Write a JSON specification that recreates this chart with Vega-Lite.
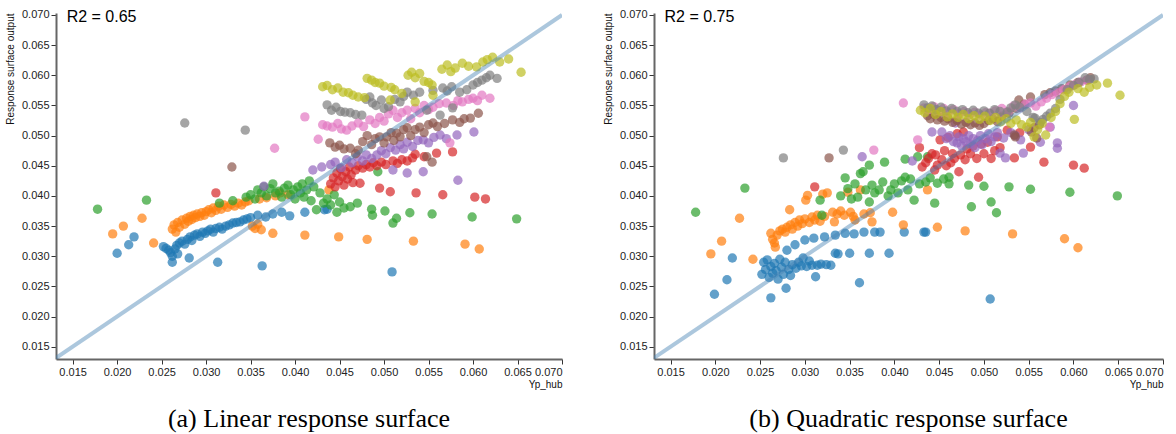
{
"$schema":"https://vega.github.io/schema/vega-lite/v6.json",
"padding":{"left":5,"top":8,"right":2,"bottom":2},
"spacing":40,
"config":{"view":{"stroke":null},"font":"Liberation Sans",
 "axis":{"grid":false,"domainColor":"#666","domainWidth":2,"tickColor":"#333","tickSize":5,"labelFont":"Liberation Sans","labelFontSize":11,"labelColor":"#222","titleFont":"Liberation Sans","titleFontSize":10,"titleFontWeight":"normal","titleColor":"#111","format":".3f"}},
"datasets":{
"la":[{"x":0.0131,"y":0.0131},{"x":0.0700,"y":0.0700}],
"ta":[{"x":0.01433,"y":0.0688,"t":"R2 = 0.65"}],
"tb":[{"x":0.01433,"y":0.0688,"t":"R2 = 0.75"}],
"a":[
{"g":1,"x":0.0200,"y":0.0305},{"g":1,"x":0.0213,"y":0.0319},{"g":1,"x":0.0219,"y":0.0332},{"g":1,"x":0.0252,"y":0.0316},{"g":1,"x":0.0255,"y":0.0313},{"g":1,"x":0.0258,"y":0.0310},{"g":1,"x":0.0260,"y":0.0306},{"g":1,"x":0.0262,"y":0.0300},{"g":1,"x":0.0262,"y":0.0290},{"g":1,"x":0.0265,"y":0.0312},{"g":1,"x":0.0267,"y":0.0318},{"g":1,"x":0.0268,"y":0.0304},{"g":1,"x":0.0270,"y":0.0322},{"g":1,"x":0.0273,"y":0.0325},{"g":1,"x":0.0276,"y":0.0320},{"g":1,"x":0.0279,"y":0.0328},{"g":1,"x":0.0281,"y":0.0297},{"g":1,"x":0.0282,"y":0.0332},{"g":1,"x":0.0284,"y":0.0326},{"g":1,"x":0.0287,"y":0.0335},{"g":1,"x":0.0290,"y":0.0337},{"g":1,"x":0.0293,"y":0.0333},{"g":1,"x":0.0296,"y":0.0340},{"g":1,"x":0.0299,"y":0.0338},{"g":1,"x":0.0302,"y":0.0342},{"g":1,"x":0.0305,"y":0.0345},{"g":1,"x":0.0308,"y":0.0340},{"g":1,"x":0.0311,"y":0.0346},{"g":1,"x":0.0313,"y":0.0290},{"g":1,"x":0.0315,"y":0.0348},{"g":1,"x":0.0318,"y":0.0345},{"g":1,"x":0.0322,"y":0.0350},{"g":1,"x":0.0326,"y":0.0352},{"g":1,"x":0.0330,"y":0.0355},{"g":1,"x":0.0334,"y":0.0356},{"g":1,"x":0.0338,"y":0.0357},{"g":1,"x":0.0342,"y":0.0360},{"g":1,"x":0.0346,"y":0.0362},{"g":1,"x":0.0350,"y":0.0364},{"g":1,"x":0.0358,"y":0.0368},{"g":1,"x":0.0363,"y":0.0284},{"g":1,"x":0.0367,"y":0.0365},{"g":1,"x":0.0375,"y":0.0370},{"g":1,"x":0.0385,"y":0.0373},{"g":1,"x":0.0394,"y":0.0367},{"g":1,"x":0.0411,"y":0.0373},{"g":1,"x":0.0433,"y":0.0377},{"g":1,"x":0.0436,"y":0.0378},{"g":1,"x":0.0509,"y":0.0274},
{"g":2,"x":0.0195,"y":0.0337},{"g":2,"x":0.0207,"y":0.0350},{"g":2,"x":0.0228,"y":0.0363},{"g":2,"x":0.0241,"y":0.0322},{"g":2,"x":0.0262,"y":0.0345},{"g":2,"x":0.0264,"y":0.0352},{"g":2,"x":0.0266,"y":0.0340},{"g":2,"x":0.0268,"y":0.0356},{"g":2,"x":0.0270,"y":0.0348},{"g":2,"x":0.0273,"y":0.0360},{"g":2,"x":0.0276,"y":0.0353},{"g":2,"x":0.0278,"y":0.0363},{"g":2,"x":0.0280,"y":0.0358},{"g":2,"x":0.0282,"y":0.0366},{"g":2,"x":0.0284,"y":0.0361},{"g":2,"x":0.0286,"y":0.0368},{"g":2,"x":0.0288,"y":0.0364},{"g":2,"x":0.0290,"y":0.0370},{"g":2,"x":0.0293,"y":0.0366},{"g":2,"x":0.0295,"y":0.0372},{"g":2,"x":0.0298,"y":0.0368},{"g":2,"x":0.0300,"y":0.0374},{"g":2,"x":0.0303,"y":0.0377},{"g":2,"x":0.0306,"y":0.0372},{"g":2,"x":0.0308,"y":0.0380},{"g":2,"x":0.0311,"y":0.0376},{"g":2,"x":0.0314,"y":0.0383},{"g":2,"x":0.0317,"y":0.0378},{"g":2,"x":0.0320,"y":0.0385},{"g":2,"x":0.0324,"y":0.0381},{"g":2,"x":0.0328,"y":0.0386},{"g":2,"x":0.0332,"y":0.0383},{"g":2,"x":0.0336,"y":0.0388},{"g":2,"x":0.0340,"y":0.0385},{"g":2,"x":0.0344,"y":0.0390},{"g":2,"x":0.0348,"y":0.0392},{"g":2,"x":0.0352,"y":0.0350},{"g":2,"x":0.0355,"y":0.0346},{"g":2,"x":0.0358,"y":0.0353},{"g":2,"x":0.0362,"y":0.0344},{"g":2,"x":0.0360,"y":0.0395},{"g":2,"x":0.0368,"y":0.0397},{"g":2,"x":0.0375,"y":0.0338},{"g":2,"x":0.0378,"y":0.0400},{"g":2,"x":0.0383,"y":0.0405},{"g":2,"x":0.0392,"y":0.0402},{"g":2,"x":0.0411,"y":0.0335},{"g":2,"x":0.0438,"y":0.0410},{"g":2,"x":0.0449,"y":0.0332},{"g":2,"x":0.0481,"y":0.0328},{"g":2,"x":0.0533,"y":0.0325},{"g":2,"x":0.0591,"y":0.0320},{"g":2,"x":0.0607,"y":0.0312},
{"g":3,"x":0.0178,"y":0.0378},{"g":3,"x":0.0233,"y":0.0393},{"g":3,"x":0.0315,"y":0.0388},{"g":3,"x":0.0330,"y":0.0392},{"g":3,"x":0.0345,"y":0.0398},{"g":3,"x":0.0350,"y":0.0402},{"g":3,"x":0.0355,"y":0.0395},{"g":3,"x":0.0358,"y":0.0410},{"g":3,"x":0.0362,"y":0.0405},{"g":3,"x":0.0365,"y":0.0415},{"g":3,"x":0.0368,"y":0.0400},{"g":3,"x":0.0372,"y":0.0412},{"g":3,"x":0.0375,"y":0.0420},{"g":3,"x":0.0378,"y":0.0405},{"g":3,"x":0.0382,"y":0.0408},{"g":3,"x":0.0385,"y":0.0398},{"g":3,"x":0.0388,"y":0.0413},{"g":3,"x":0.0392,"y":0.0418},{"g":3,"x":0.0395,"y":0.0402},{"g":3,"x":0.0398,"y":0.0410},{"g":3,"x":0.0400,"y":0.0395},{"g":3,"x":0.0403,"y":0.0415},{"g":3,"x":0.0406,"y":0.0405},{"g":3,"x":0.0408,"y":0.0420},{"g":3,"x":0.0410,"y":0.0398},{"g":3,"x":0.0413,"y":0.0410},{"g":3,"x":0.0416,"y":0.0425},{"g":3,"x":0.0418,"y":0.0392},{"g":3,"x":0.0421,"y":0.0415},{"g":3,"x":0.0424,"y":0.0377},{"g":3,"x":0.0428,"y":0.0405},{"g":3,"x":0.0432,"y":0.0388},{"g":3,"x":0.0436,"y":0.0395},{"g":3,"x":0.0440,"y":0.0385},{"g":3,"x":0.0444,"y":0.0402},{"g":3,"x":0.0447,"y":0.0373},{"g":3,"x":0.0450,"y":0.0390},{"g":3,"x":0.0455,"y":0.0380},{"g":3,"x":0.0462,"y":0.0382},{"g":3,"x":0.0470,"y":0.0388},{"g":3,"x":0.0486,"y":0.0378},{"g":3,"x":0.0487,"y":0.0368},{"g":3,"x":0.0493,"y":0.0440},{"g":3,"x":0.0501,"y":0.0375},{"g":3,"x":0.0510,"y":0.0355},{"g":3,"x":0.0514,"y":0.0363},{"g":3,"x":0.0529,"y":0.0372},{"g":3,"x":0.0554,"y":0.0370},{"g":3,"x":0.0599,"y":0.0365},{"g":3,"x":0.0649,"y":0.0362},
{"g":4,"x":0.0311,"y":0.0405},{"g":4,"x":0.0440,"y":0.0420},{"g":4,"x":0.0443,"y":0.0430},{"g":4,"x":0.0445,"y":0.0415},{"g":4,"x":0.0447,"y":0.0438},{"g":4,"x":0.0449,"y":0.0425},{"g":4,"x":0.0451,"y":0.0445},{"g":4,"x":0.0453,"y":0.0432},{"g":4,"x":0.0455,"y":0.0418},{"g":4,"x":0.0457,"y":0.0440},{"g":4,"x":0.0459,"y":0.0428},{"g":4,"x":0.0461,"y":0.0448},{"g":4,"x":0.0463,"y":0.0435},{"g":4,"x":0.0465,"y":0.0422},{"g":4,"x":0.0468,"y":0.0443},{"g":4,"x":0.0471,"y":0.0450},{"g":4,"x":0.0473,"y":0.0421},{"g":4,"x":0.0476,"y":0.0446},{"g":4,"x":0.0480,"y":0.0452},{"g":4,"x":0.0484,"y":0.0448},{"g":4,"x":0.0488,"y":0.0455},{"g":4,"x":0.0492,"y":0.0450},{"g":4,"x":0.0495,"y":0.0413},{"g":4,"x":0.0497,"y":0.0456},{"g":4,"x":0.0502,"y":0.0452},{"g":4,"x":0.0507,"y":0.0407},{"g":4,"x":0.0510,"y":0.0458},{"g":4,"x":0.0515,"y":0.0454},{"g":4,"x":0.0520,"y":0.0460},{"g":4,"x":0.0526,"y":0.0458},{"g":4,"x":0.0532,"y":0.0463},{"g":4,"x":0.0535,"y":0.0469},{"g":4,"x":0.0536,"y":0.0405},{"g":4,"x":0.0545,"y":0.0465},{"g":4,"x":0.0559,"y":0.0471},{"g":4,"x":0.0566,"y":0.0402},{"g":4,"x":0.0577,"y":0.0473},{"g":4,"x":0.0602,"y":0.0398},{"g":4,"x":0.0614,"y":0.0395},
{"g":5,"x":0.0365,"y":0.0416},{"g":5,"x":0.0420,"y":0.0443},{"g":5,"x":0.0430,"y":0.0448},{"g":5,"x":0.0440,"y":0.0452},{"g":5,"x":0.0445,"y":0.0456},{"g":5,"x":0.0452,"y":0.0447},{"g":5,"x":0.0458,"y":0.0460},{"g":5,"x":0.0464,"y":0.0455},{"g":5,"x":0.0470,"y":0.0465},{"g":5,"x":0.0476,"y":0.0458},{"g":5,"x":0.0480,"y":0.0468},{"g":5,"x":0.0486,"y":0.0462},{"g":5,"x":0.0492,"y":0.0468},{"g":5,"x":0.0497,"y":0.0475},{"g":5,"x":0.0502,"y":0.0470},{"g":5,"x":0.0507,"y":0.0480},{"g":5,"x":0.0510,"y":0.0443},{"g":5,"x":0.0513,"y":0.0476},{"g":5,"x":0.0518,"y":0.0485},{"g":5,"x":0.0522,"y":0.0478},{"g":5,"x":0.0526,"y":0.0489},{"g":5,"x":0.0526,"y":0.0438},{"g":5,"x":0.0532,"y":0.0482},{"g":5,"x":0.0538,"y":0.0492},{"g":5,"x":0.0544,"y":0.0493},{"g":5,"x":0.0544,"y":0.0440},{"g":5,"x":0.0550,"y":0.0488},{"g":5,"x":0.0556,"y":0.0497},{"g":5,"x":0.0563,"y":0.0501},{"g":5,"x":0.0570,"y":0.0495},{"g":5,"x":0.0582,"y":0.0501},{"g":5,"x":0.0583,"y":0.0426},{"g":5,"x":0.0601,"y":0.0506},
{"g":6,"x":0.0329,"y":0.0448},{"g":6,"x":0.0439,"y":0.0488},{"g":6,"x":0.0445,"y":0.0481},{"g":6,"x":0.0450,"y":0.0484},{"g":6,"x":0.0455,"y":0.0478},{"g":6,"x":0.0462,"y":0.0479},{"g":6,"x":0.0468,"y":0.0470},{"g":6,"x":0.0471,"y":0.0476},{"g":6,"x":0.0476,"y":0.0490},{"g":6,"x":0.0481,"y":0.0500},{"g":6,"x":0.0486,"y":0.0485},{"g":6,"x":0.0490,"y":0.0495},{"g":6,"x":0.0495,"y":0.0498},{"g":6,"x":0.0500,"y":0.0488},{"g":6,"x":0.0503,"y":0.0498},{"g":6,"x":0.0508,"y":0.0505},{"g":6,"x":0.0511,"y":0.0492},{"g":6,"x":0.0514,"y":0.0504},{"g":6,"x":0.0518,"y":0.0498},{"g":6,"x":0.0522,"y":0.0510},{"g":6,"x":0.0526,"y":0.0513},{"g":6,"x":0.0530,"y":0.0500},{"g":6,"x":0.0535,"y":0.0510},{"g":6,"x":0.0540,"y":0.0514},{"g":6,"x":0.0545,"y":0.0505},{"g":6,"x":0.0548,"y":0.0465},{"g":6,"x":0.0550,"y":0.0518},{"g":6,"x":0.0554,"y":0.0456},{"g":6,"x":0.0555,"y":0.0521},{"g":6,"x":0.0560,"y":0.0515},{"g":6,"x":0.0568,"y":0.0520},{"g":6,"x":0.0577,"y":0.0526},{"g":6,"x":0.0585,"y":0.0522},{"g":6,"x":0.0590,"y":0.0528},{"g":6,"x":0.0597,"y":0.0529},{"g":6,"x":0.0606,"y":0.0537},
{"g":7,"x":0.0377,"y":0.0479},{"g":7,"x":0.0411,"y":0.0531},{"g":7,"x":0.0426,"y":0.0494},{"g":7,"x":0.0431,"y":0.0518},{"g":7,"x":0.0436,"y":0.0516},{"g":7,"x":0.0442,"y":0.0514},{"g":7,"x":0.0448,"y":0.0520},{"g":7,"x":0.0452,"y":0.0511},{"g":7,"x":0.0458,"y":0.0509},{"g":7,"x":0.0464,"y":0.0516},{"g":7,"x":0.0471,"y":0.0521},{"g":7,"x":0.0477,"y":0.0515},{"g":7,"x":0.0484,"y":0.0526},{"g":7,"x":0.0490,"y":0.0520},{"g":7,"x":0.0495,"y":0.0530},{"g":7,"x":0.0500,"y":0.0524},{"g":7,"x":0.0505,"y":0.0536},{"g":7,"x":0.0510,"y":0.0542},{"g":7,"x":0.0515,"y":0.0530},{"g":7,"x":0.0520,"y":0.0538},{"g":7,"x":0.0526,"y":0.0542},{"g":7,"x":0.0530,"y":0.0528},{"g":7,"x":0.0535,"y":0.0545},{"g":7,"x":0.0540,"y":0.0538},{"g":7,"x":0.0545,"y":0.0550},{"g":7,"x":0.0550,"y":0.0543},{"g":7,"x":0.0555,"y":0.0547},{"g":7,"x":0.0562,"y":0.0553},{"g":7,"x":0.0570,"y":0.0554},{"g":7,"x":0.0574,"y":0.0488},{"g":7,"x":0.0578,"y":0.0550},{"g":7,"x":0.0583,"y":0.0558},{"g":7,"x":0.0588,"y":0.0556},{"g":7,"x":0.0595,"y":0.0560},{"g":7,"x":0.0600,"y":0.0562},{"g":7,"x":0.0605,"y":0.0558},{"g":7,"x":0.0610,"y":0.0567},{"g":7,"x":0.0619,"y":0.0562},
{"g":8,"x":0.0276,"y":0.0521},{"g":8,"x":0.0344,"y":0.0509},{"g":8,"x":0.0436,"y":0.0551},{"g":8,"x":0.0441,"y":0.0542},{"g":8,"x":0.0446,"y":0.0547},{"g":8,"x":0.0451,"y":0.0540},{"g":8,"x":0.0456,"y":0.0539},{"g":8,"x":0.0462,"y":0.0538},{"g":8,"x":0.0468,"y":0.0535},{"g":8,"x":0.0475,"y":0.0534},{"g":8,"x":0.0480,"y":0.0560},{"g":8,"x":0.0484,"y":0.0564},{"g":8,"x":0.0487,"y":0.0554},{"g":8,"x":0.0491,"y":0.0550},{"g":8,"x":0.0497,"y":0.0559},{"g":8,"x":0.0500,"y":0.0545},{"g":8,"x":0.0505,"y":0.0548},{"g":8,"x":0.0512,"y":0.0560},{"g":8,"x":0.0518,"y":0.0556},{"g":8,"x":0.0522,"y":0.0565},{"g":8,"x":0.0526,"y":0.0572},{"g":8,"x":0.0533,"y":0.0567},{"g":8,"x":0.0540,"y":0.0572},{"g":8,"x":0.0548,"y":0.0542},{"g":8,"x":0.0555,"y":0.0575},{"g":8,"x":0.0563,"y":0.0534},{"g":8,"x":0.0566,"y":0.0579},{"g":8,"x":0.0571,"y":0.0574},{"g":8,"x":0.0576,"y":0.0581},{"g":8,"x":0.0577,"y":0.0546},{"g":8,"x":0.0585,"y":0.0572},{"g":8,"x":0.0593,"y":0.0576},{"g":8,"x":0.0600,"y":0.0584},{"g":8,"x":0.0605,"y":0.0588},{"g":8,"x":0.0610,"y":0.0592},{"g":8,"x":0.0615,"y":0.0596},{"g":8,"x":0.0619,"y":0.0600},{"g":8,"x":0.0627,"y":0.0595},
{"g":9,"x":0.0431,"y":0.0581},{"g":9,"x":0.0436,"y":0.0583},{"g":9,"x":0.0442,"y":0.0576},{"g":9,"x":0.0448,"y":0.0579},{"g":9,"x":0.0454,"y":0.0572},{"g":9,"x":0.0460,"y":0.0571},{"g":9,"x":0.0465,"y":0.0567},{"g":9,"x":0.0471,"y":0.0564},{"g":9,"x":0.0478,"y":0.0563},{"g":9,"x":0.0481,"y":0.0595},{"g":9,"x":0.0486,"y":0.0592},{"g":9,"x":0.0490,"y":0.0588},{"g":9,"x":0.0495,"y":0.0587},{"g":9,"x":0.0500,"y":0.0582},{"g":9,"x":0.0507,"y":0.0559},{"g":9,"x":0.0508,"y":0.0580},{"g":9,"x":0.0512,"y":0.0576},{"g":9,"x":0.0520,"y":0.0570},{"g":9,"x":0.0527,"y":0.0600},{"g":9,"x":0.0531,"y":0.0605},{"g":9,"x":0.0535,"y":0.0596},{"g":9,"x":0.0535,"y":0.0556},{"g":9,"x":0.0540,"y":0.0603},{"g":9,"x":0.0545,"y":0.0590},{"g":9,"x":0.0550,"y":0.0588},{"g":9,"x":0.0554,"y":0.0584},{"g":9,"x":0.0555,"y":0.0567},{"g":9,"x":0.0565,"y":0.0610},{"g":9,"x":0.0571,"y":0.0617},{"g":9,"x":0.0575,"y":0.0606},{"g":9,"x":0.0580,"y":0.0612},{"g":9,"x":0.0588,"y":0.0620},{"g":9,"x":0.0595,"y":0.0615},{"g":9,"x":0.0604,"y":0.0614},{"g":9,"x":0.0611,"y":0.0622},{"g":9,"x":0.0616,"y":0.0626},{"g":9,"x":0.0622,"y":0.0630},{"g":9,"x":0.0630,"y":0.0622},{"g":9,"x":0.0640,"y":0.0627},{"g":9,"x":0.0654,"y":0.0605}
],
"b":[
{"g":1,"x":0.0199,"y":0.0237},{"g":1,"x":0.0213,"y":0.0261},{"g":1,"x":0.0219,"y":0.0297},{"g":1,"x":0.0252,"y":0.0270},{"g":1,"x":0.0254,"y":0.0290},{"g":1,"x":0.0256,"y":0.0278},{"g":1,"x":0.0258,"y":0.0294},{"g":1,"x":0.0260,"y":0.0265},{"g":1,"x":0.0262,"y":0.0231},{"g":1,"x":0.0262,"y":0.0283},{"g":1,"x":0.0264,"y":0.0272},{"g":1,"x":0.0266,"y":0.0288},{"g":1,"x":0.0268,"y":0.0276},{"g":1,"x":0.0270,"y":0.0262},{"g":1,"x":0.0272,"y":0.0295},{"g":1,"x":0.0274,"y":0.0282},{"g":1,"x":0.0276,"y":0.0270},{"g":1,"x":0.0278,"y":0.0290},{"g":1,"x":0.0279,"y":0.0247},{"g":1,"x":0.0280,"y":0.0310},{"g":1,"x":0.0282,"y":0.0278},{"g":1,"x":0.0284,"y":0.0268},{"g":1,"x":0.0286,"y":0.0286},{"g":1,"x":0.0289,"y":0.0319},{"g":1,"x":0.0290,"y":0.0280},{"g":1,"x":0.0293,"y":0.0290},{"g":1,"x":0.0296,"y":0.0284},{"g":1,"x":0.0298,"y":0.0297},{"g":1,"x":0.0300,"y":0.0327},{"g":1,"x":0.0302,"y":0.0283},{"g":1,"x":0.0305,"y":0.0292},{"g":1,"x":0.0308,"y":0.0285},{"g":1,"x":0.0310,"y":0.0330},{"g":1,"x":0.0312,"y":0.0266},{"g":1,"x":0.0314,"y":0.0285},{"g":1,"x":0.0318,"y":0.0287},{"g":1,"x":0.0322,"y":0.0332},{"g":1,"x":0.0324,"y":0.0286},{"g":1,"x":0.0329,"y":0.0285},{"g":1,"x":0.0334,"y":0.0335},{"g":1,"x":0.0334,"y":0.0305},{"g":1,"x":0.0337,"y":0.0304},{"g":1,"x":0.0345,"y":0.0338},{"g":1,"x":0.0350,"y":0.0305},{"g":1,"x":0.0355,"y":0.0337},{"g":1,"x":0.0361,"y":0.0256},{"g":1,"x":0.0366,"y":0.0340},{"g":1,"x":0.0372,"y":0.0305},{"g":1,"x":0.0378,"y":0.0340},{"g":1,"x":0.0384,"y":0.0340},{"g":1,"x":0.0394,"y":0.0305},{"g":1,"x":0.0411,"y":0.0340},{"g":1,"x":0.0433,"y":0.0340},{"g":1,"x":0.0435,"y":0.0340},{"g":1,"x":0.0507,"y":0.0229},
{"g":2,"x":0.0195,"y":0.0304},{"g":2,"x":0.0207,"y":0.0325},{"g":2,"x":0.0227,"y":0.0363},{"g":2,"x":0.0242,"y":0.0295},{"g":2,"x":0.0262,"y":0.0338},{"g":2,"x":0.0264,"y":0.0328},{"g":2,"x":0.0266,"y":0.0322},{"g":2,"x":0.0267,"y":0.0315},{"g":2,"x":0.0269,"y":0.0335},{"g":2,"x":0.0272,"y":0.0342},{"g":2,"x":0.0275,"y":0.0345},{"g":2,"x":0.0278,"y":0.0340},{"g":2,"x":0.0280,"y":0.0348},{"g":2,"x":0.0283,"y":0.0377},{"g":2,"x":0.0284,"y":0.0352},{"g":2,"x":0.0286,"y":0.0345},{"g":2,"x":0.0289,"y":0.0356},{"g":2,"x":0.0292,"y":0.0350},{"g":2,"x":0.0294,"y":0.0360},{"g":2,"x":0.0297,"y":0.0354},{"g":2,"x":0.0300,"y":0.0362},{"g":2,"x":0.0301,"y":0.0393},{"g":2,"x":0.0303,"y":0.0401},{"g":2,"x":0.0305,"y":0.0356},{"g":2,"x":0.0308,"y":0.0365},{"g":2,"x":0.0311,"y":0.0360},{"g":2,"x":0.0314,"y":0.0368},{"g":2,"x":0.0317,"y":0.0358},{"g":2,"x":0.0320,"y":0.0403},{"g":2,"x":0.0322,"y":0.0366},{"g":2,"x":0.0325,"y":0.0405},{"g":2,"x":0.0331,"y":0.0373},{"g":2,"x":0.0333,"y":0.0357},{"g":2,"x":0.0336,"y":0.0370},{"g":2,"x":0.0340,"y":0.0375},{"g":2,"x":0.0344,"y":0.0368},{"g":2,"x":0.0348,"y":0.0406},{"g":2,"x":0.0351,"y":0.0373},{"g":2,"x":0.0354,"y":0.0366},{"g":2,"x":0.0356,"y":0.0360},{"g":2,"x":0.0362,"y":0.0410},{"g":2,"x":0.0366,"y":0.0370},{"g":2,"x":0.0373,"y":0.0372},{"g":2,"x":0.0375,"y":0.0357},{"g":2,"x":0.0398,"y":0.0373},{"g":2,"x":0.0410,"y":0.0352},{"g":2,"x":0.0437,"y":0.0410},{"g":2,"x":0.0448,"y":0.0348},{"g":2,"x":0.0479,"y":0.0342},{"g":2,"x":0.0532,"y":0.0337},{"g":2,"x":0.0590,"y":0.0329},{"g":2,"x":0.0605,"y":0.0314},
{"g":3,"x":0.0178,"y":0.0373},{"g":3,"x":0.0233,"y":0.0413},{"g":3,"x":0.0317,"y":0.0393},{"g":3,"x":0.0319,"y":0.0368},{"g":3,"x":0.0340,"y":0.0400},{"g":3,"x":0.0345,"y":0.0430},{"g":3,"x":0.0348,"y":0.0412},{"g":3,"x":0.0352,"y":0.0395},{"g":3,"x":0.0356,"y":0.0420},{"g":3,"x":0.0359,"y":0.0398},{"g":3,"x":0.0362,"y":0.0437},{"g":3,"x":0.0365,"y":0.0440},{"g":3,"x":0.0368,"y":0.0410},{"g":3,"x":0.0372,"y":0.0451},{"g":3,"x":0.0372,"y":0.0390},{"g":3,"x":0.0375,"y":0.0418},{"g":3,"x":0.0378,"y":0.0405},{"g":3,"x":0.0383,"y":0.0410},{"g":3,"x":0.0387,"y":0.0423},{"g":3,"x":0.0389,"y":0.0456},{"g":3,"x":0.0393,"y":0.0400},{"g":3,"x":0.0396,"y":0.0410},{"g":3,"x":0.0400,"y":0.0420},{"g":3,"x":0.0404,"y":0.0405},{"g":3,"x":0.0408,"y":0.0425},{"g":3,"x":0.0412,"y":0.0431},{"g":3,"x":0.0412,"y":0.0461},{"g":3,"x":0.0415,"y":0.0410},{"g":3,"x":0.0418,"y":0.0428},{"g":3,"x":0.0422,"y":0.0393},{"g":3,"x":0.0426,"y":0.0465},{"g":3,"x":0.0428,"y":0.0420},{"g":3,"x":0.0435,"y":0.0423},{"g":3,"x":0.0437,"y":0.0465},{"g":3,"x":0.0440,"y":0.0430},{"g":3,"x":0.0445,"y":0.0388},{"g":3,"x":0.0448,"y":0.0421},{"g":3,"x":0.0455,"y":0.0428},{"g":3,"x":0.0461,"y":0.0431},{"g":3,"x":0.0461,"y":0.0420},{"g":3,"x":0.0483,"y":0.0418},{"g":3,"x":0.0486,"y":0.0382},{"g":3,"x":0.0500,"y":0.0416},{"g":3,"x":0.0508,"y":0.0390},{"g":3,"x":0.0514,"y":0.0372},{"g":3,"x":0.0528,"y":0.0415},{"g":3,"x":0.0552,"y":0.0411},{"g":3,"x":0.0596,"y":0.0406},{"g":3,"x":0.0649,"y":0.0400},
{"g":4,"x":0.0311,"y":0.0415},{"g":4,"x":0.0428,"y":0.0480},{"g":4,"x":0.0431,"y":0.0448},{"g":4,"x":0.0435,"y":0.0455},{"g":4,"x":0.0438,"y":0.0462},{"g":4,"x":0.0442,"y":0.0470},{"g":4,"x":0.0445,"y":0.0443},{"g":4,"x":0.0446,"y":0.0468},{"g":4,"x":0.0448,"y":0.0451},{"g":4,"x":0.0451,"y":0.0493},{"g":4,"x":0.0453,"y":0.0460},{"g":4,"x":0.0456,"y":0.0475},{"g":4,"x":0.0458,"y":0.0450},{"g":4,"x":0.0460,"y":0.0497},{"g":4,"x":0.0463,"y":0.0455},{"g":4,"x":0.0465,"y":0.0470},{"g":4,"x":0.0467,"y":0.0462},{"g":4,"x":0.0470,"y":0.0503},{"g":4,"x":0.0472,"y":0.0440},{"g":4,"x":0.0474,"y":0.0468},{"g":4,"x":0.0477,"y":0.0506},{"g":4,"x":0.0479,"y":0.0460},{"g":4,"x":0.0481,"y":0.0478},{"g":4,"x":0.0485,"y":0.0470},{"g":4,"x":0.0488,"y":0.0483},{"g":4,"x":0.0492,"y":0.0462},{"g":4,"x":0.0494,"y":0.0431},{"g":4,"x":0.0497,"y":0.0486},{"g":4,"x":0.0500,"y":0.0470},{"g":4,"x":0.0504,"y":0.0489},{"g":4,"x":0.0508,"y":0.0462},{"g":4,"x":0.0512,"y":0.0475},{"g":4,"x":0.0515,"y":0.0498},{"g":4,"x":0.0518,"y":0.0480},{"g":4,"x":0.0526,"y":0.0509},{"g":4,"x":0.0534,"y":0.0463},{"g":4,"x":0.0540,"y":0.0505},{"g":4,"x":0.0552,"y":0.0481},{"g":4,"x":0.0567,"y":0.0456},{"g":4,"x":0.0600,"y":0.0451},{"g":4,"x":0.0612,"y":0.0446},
{"g":5,"x":0.0364,"y":0.0465},{"g":5,"x":0.0420,"y":0.0458},{"g":5,"x":0.0442,"y":0.0506},{"g":5,"x":0.0453,"y":0.0506},{"g":5,"x":0.0458,"y":0.0495},{"g":5,"x":0.0462,"y":0.0500},{"g":5,"x":0.0466,"y":0.0490},{"g":5,"x":0.0468,"y":0.0521},{"g":5,"x":0.0470,"y":0.0488},{"g":5,"x":0.0472,"y":0.0498},{"g":5,"x":0.0475,"y":0.0483},{"g":5,"x":0.0477,"y":0.0495},{"g":5,"x":0.0480,"y":0.0490},{"g":5,"x":0.0483,"y":0.0500},{"g":5,"x":0.0485,"y":0.0486},{"g":5,"x":0.0488,"y":0.0495},{"g":5,"x":0.0490,"y":0.0480},{"g":5,"x":0.0493,"y":0.0492},{"g":5,"x":0.0496,"y":0.0500},{"g":5,"x":0.0498,"y":0.0485},{"g":5,"x":0.0502,"y":0.0495},{"g":5,"x":0.0505,"y":0.0503},{"g":5,"x":0.0508,"y":0.0490},{"g":5,"x":0.0512,"y":0.0498},{"g":5,"x":0.0515,"y":0.0505},{"g":5,"x":0.0518,"y":0.0471},{"g":5,"x":0.0522,"y":0.0496},{"g":5,"x":0.0524,"y":0.0463},{"g":5,"x":0.0530,"y":0.0505},{"g":5,"x":0.0535,"y":0.0500},{"g":5,"x":0.0541,"y":0.0493},{"g":5,"x":0.0544,"y":0.0471},{"g":5,"x":0.0550,"y":0.0510},{"g":5,"x":0.0563,"y":0.0489},{"g":5,"x":0.0574,"y":0.0514},{"g":5,"x":0.0582,"y":0.0488},{"g":5,"x":0.0582,"y":0.0479},{"g":5,"x":0.0600,"y":0.0550},
{"g":6,"x":0.0327,"y":0.0463},{"g":6,"x":0.0437,"y":0.0533},{"g":6,"x":0.0440,"y":0.0528},{"g":6,"x":0.0444,"y":0.0535},{"g":6,"x":0.0448,"y":0.0526},{"g":6,"x":0.0452,"y":0.0530},{"g":6,"x":0.0456,"y":0.0524},{"g":6,"x":0.0460,"y":0.0528},{"g":6,"x":0.0465,"y":0.0522},{"g":6,"x":0.0470,"y":0.0525},{"g":6,"x":0.0475,"y":0.0519},{"g":6,"x":0.0480,"y":0.0522},{"g":6,"x":0.0485,"y":0.0518},{"g":6,"x":0.0490,"y":0.0521},{"g":6,"x":0.0495,"y":0.0517},{"g":6,"x":0.0500,"y":0.0520},{"g":6,"x":0.0505,"y":0.0525},{"g":6,"x":0.0510,"y":0.0528},{"g":6,"x":0.0515,"y":0.0523},{"g":6,"x":0.0520,"y":0.0532},{"g":6,"x":0.0528,"y":0.0537},{"g":6,"x":0.0534,"y":0.0501},{"g":6,"x":0.0535,"y":0.0498},{"g":6,"x":0.0536,"y":0.0545},{"g":6,"x":0.0539,"y":0.0559},{"g":6,"x":0.0545,"y":0.0552},{"g":6,"x":0.0552,"y":0.0564},{"g":6,"x":0.0553,"y":0.0506},{"g":6,"x":0.0556,"y":0.0513},{"g":6,"x":0.0559,"y":0.0496},{"g":6,"x":0.0562,"y":0.0518},{"g":6,"x":0.0568,"y":0.0568},{"g":6,"x":0.0574,"y":0.0571},{"g":6,"x":0.0580,"y":0.0574},{"g":6,"x":0.0587,"y":0.0578},{"g":6,"x":0.0596,"y":0.0584},{"g":6,"x":0.0605,"y":0.0588},{"g":6,"x":0.0615,"y":0.0592},{"g":6,"x":0.0619,"y":0.0596},
{"g":7,"x":0.0377,"y":0.0476},{"g":7,"x":0.0410,"y":0.0554},{"g":7,"x":0.0426,"y":0.0493},{"g":7,"x":0.0433,"y":0.0546},{"g":7,"x":0.0438,"y":0.0543},{"g":7,"x":0.0444,"y":0.0548},{"g":7,"x":0.0450,"y":0.0541},{"g":7,"x":0.0455,"y":0.0545},{"g":7,"x":0.0460,"y":0.0538},{"g":7,"x":0.0466,"y":0.0543},{"g":7,"x":0.0472,"y":0.0536},{"g":7,"x":0.0478,"y":0.0540},{"g":7,"x":0.0484,"y":0.0535},{"g":7,"x":0.0490,"y":0.0539},{"g":7,"x":0.0496,"y":0.0534},{"g":7,"x":0.0502,"y":0.0538},{"g":7,"x":0.0507,"y":0.0537},{"g":7,"x":0.0513,"y":0.0541},{"g":7,"x":0.0520,"y":0.0545},{"g":7,"x":0.0527,"y":0.0540},{"g":7,"x":0.0533,"y":0.0549},{"g":7,"x":0.0540,"y":0.0546},{"g":7,"x":0.0546,"y":0.0552},{"g":7,"x":0.0552,"y":0.0554},{"g":7,"x":0.0558,"y":0.0549},{"g":7,"x":0.0564,"y":0.0556},{"g":7,"x":0.0570,"y":0.0562},{"g":7,"x":0.0573,"y":0.0514},{"g":7,"x":0.0576,"y":0.0568},{"g":7,"x":0.0582,"y":0.0571},{"g":7,"x":0.0589,"y":0.0576},{"g":7,"x":0.0596,"y":0.0581},{"g":7,"x":0.0602,"y":0.0585},{"g":7,"x":0.0608,"y":0.0589},{"g":7,"x":0.0615,"y":0.0592},
{"g":8,"x":0.0276,"y":0.0463},{"g":8,"x":0.0343,"y":0.0476},{"g":8,"x":0.0433,"y":0.0551},{"g":8,"x":0.0437,"y":0.0546},{"g":8,"x":0.0442,"y":0.0549},{"g":8,"x":0.0447,"y":0.0543},{"g":8,"x":0.0452,"y":0.0547},{"g":8,"x":0.0458,"y":0.0541},{"g":8,"x":0.0464,"y":0.0545},{"g":8,"x":0.0470,"y":0.0540},{"g":8,"x":0.0476,"y":0.0543},{"g":8,"x":0.0482,"y":0.0538},{"g":8,"x":0.0488,"y":0.0542},{"g":8,"x":0.0494,"y":0.0537},{"g":8,"x":0.0500,"y":0.0541},{"g":8,"x":0.0506,"y":0.0537},{"g":8,"x":0.0512,"y":0.0543},{"g":8,"x":0.0518,"y":0.0540},{"g":8,"x":0.0526,"y":0.0539},{"g":8,"x":0.0530,"y":0.0546},{"g":8,"x":0.0535,"y":0.0551},{"g":8,"x":0.0540,"y":0.0547},{"g":8,"x":0.0548,"y":0.0540},{"g":8,"x":0.0555,"y":0.0530},{"g":8,"x":0.0557,"y":0.0529},{"g":8,"x":0.0563,"y":0.0522},{"g":8,"x":0.0566,"y":0.0527},{"g":8,"x":0.0570,"y":0.0532},{"g":8,"x":0.0574,"y":0.0537},{"g":8,"x":0.0580,"y":0.0545},{"g":8,"x":0.0585,"y":0.0560},{"g":8,"x":0.0593,"y":0.0576},{"g":8,"x":0.0600,"y":0.0583},{"g":8,"x":0.0606,"y":0.0588},{"g":8,"x":0.0613,"y":0.0596},{"g":8,"x":0.0618,"y":0.0593},{"g":8,"x":0.0623,"y":0.0594},
{"g":9,"x":0.0429,"y":0.0542},{"g":9,"x":0.0434,"y":0.0538},{"g":9,"x":0.0440,"y":0.0545},{"g":9,"x":0.0446,"y":0.0535},{"g":9,"x":0.0452,"y":0.0540},{"g":9,"x":0.0459,"y":0.0531},{"g":9,"x":0.0465,"y":0.0536},{"g":9,"x":0.0471,"y":0.0530},{"g":9,"x":0.0477,"y":0.0535},{"g":9,"x":0.0483,"y":0.0528},{"g":9,"x":0.0489,"y":0.0533},{"g":9,"x":0.0495,"y":0.0527},{"g":9,"x":0.0501,"y":0.0532},{"g":9,"x":0.0507,"y":0.0525},{"g":9,"x":0.0513,"y":0.0530},{"g":9,"x":0.0519,"y":0.0523},{"g":9,"x":0.0525,"y":0.0528},{"g":9,"x":0.0530,"y":0.0520},{"g":9,"x":0.0536,"y":0.0526},{"g":9,"x":0.0542,"y":0.0518},{"g":9,"x":0.0548,"y":0.0514},{"g":9,"x":0.0552,"y":0.0522},{"g":9,"x":0.0556,"y":0.0498},{"g":9,"x":0.0560,"y":0.0510},{"g":9,"x":0.0565,"y":0.0520},{"g":9,"x":0.0569,"y":0.0501},{"g":9,"x":0.0575,"y":0.0530},{"g":9,"x":0.0580,"y":0.0540},{"g":9,"x":0.0585,"y":0.0553},{"g":9,"x":0.0590,"y":0.0565},{"g":9,"x":0.0595,"y":0.0572},{"g":9,"x":0.0601,"y":0.0527},{"g":9,"x":0.0605,"y":0.0578},{"g":9,"x":0.0612,"y":0.0572},{"g":9,"x":0.0618,"y":0.0580},{"g":9,"x":0.0626,"y":0.0584},{"g":9,"x":0.0638,"y":0.0587},{"g":9,"x":0.0652,"y":0.0567}
]},
"hconcat":[
{"width":506,"height":346,
 "title":{"text":"(a) Linear response surface","orient":"bottom","anchor":"middle","font":"Liberation Serif","fontSize":26,"fontWeight":"normal","color":"#000","offset":17},
 "encoding":{
  "x":{"field":"x","type":"quantitative","scale":{"domain":[0.01313,0.0700],"nice":false,"zero":false},"axis":{"values":[0.015,0.02,0.025,0.03,0.035,0.04,0.045,0.05,0.055,0.06,0.065,0.07],"title":"Yp_hub","titleAnchor":"end","titlePadding":2,"labelPadding":2}},
  "y":{"field":"y","type":"quantitative","scale":{"domain":[0.01296,0.07033],"nice":false,"zero":false},"axis":{"values":[0.015,0.02,0.025,0.03,0.035,0.04,0.045,0.05,0.055,0.06,0.065,0.07],"title":"Response surface output","titleAnchor":"end","titlePadding":6,"labelPadding":2}}},
 "layer":[
  {"data":{"name":"a"},"mark":{"type":"circle","size":88,"opacity":0.7},
   "encoding":{"color":{"field":"g","type":"nominal","legend":null,"scale":{"domain":[1,2,3,4,5,6,7,8,9],"range":["#1f77b4","#ff7f0e","#2ca02c","#d62728","#9467bd","#8c564b","#e377c2","#7f7f7f","#bcbd22"]}}}},
  {"data":{"name":"la"},"mark":{"type":"line","color":"steelblue","strokeWidth":4,"opacity":0.45,"clip":true},"encoding":{}},
  {"data":{"name":"ta"},"mark":{"type":"text","align":"left","baseline":"alphabetic","fontSize":16,"font":"Liberation Sans","color":"#000"},"encoding":{"text":{"field":"t"}}}
 ]},
{"width":509,"height":346,
 "title":{"text":"(b) Quadratic response surface","orient":"bottom","anchor":"middle","font":"Liberation Serif","fontSize":26,"fontWeight":"normal","color":"#000","offset":17},
 "encoding":{
  "x":{"field":"x","type":"quantitative","scale":{"domain":[0.01315,0.0700],"nice":false,"zero":false},"axis":{"values":[0.015,0.02,0.025,0.03,0.035,0.04,0.045,0.05,0.055,0.06,0.065,0.07],"title":"Yp_hub","titleAnchor":"end","titlePadding":2,"labelPadding":2}},
  "y":{"field":"y","type":"quantitative","scale":{"domain":[0.01296,0.07033],"nice":false,"zero":false},"axis":{"values":[0.015,0.02,0.025,0.03,0.035,0.04,0.045,0.05,0.055,0.06,0.065,0.07],"title":"Response surface output","titleAnchor":"end","titlePadding":6,"labelPadding":2}}},
 "layer":[
  {"data":{"name":"b"},"mark":{"type":"circle","size":88,"opacity":0.7},
   "encoding":{"color":{"field":"g","type":"nominal","legend":null,"scale":{"domain":[1,2,3,4,5,6,7,8,9],"range":["#1f77b4","#ff7f0e","#2ca02c","#d62728","#9467bd","#8c564b","#e377c2","#7f7f7f","#bcbd22"]}}}},
  {"data":{"name":"la"},"mark":{"type":"line","color":"steelblue","strokeWidth":4,"opacity":0.45,"clip":true},"encoding":{}},
  {"data":{"name":"tb"},"mark":{"type":"text","align":"left","baseline":"alphabetic","fontSize":16,"font":"Liberation Sans","color":"#000"},"encoding":{"text":{"field":"t"}}}
 ]}
]}
